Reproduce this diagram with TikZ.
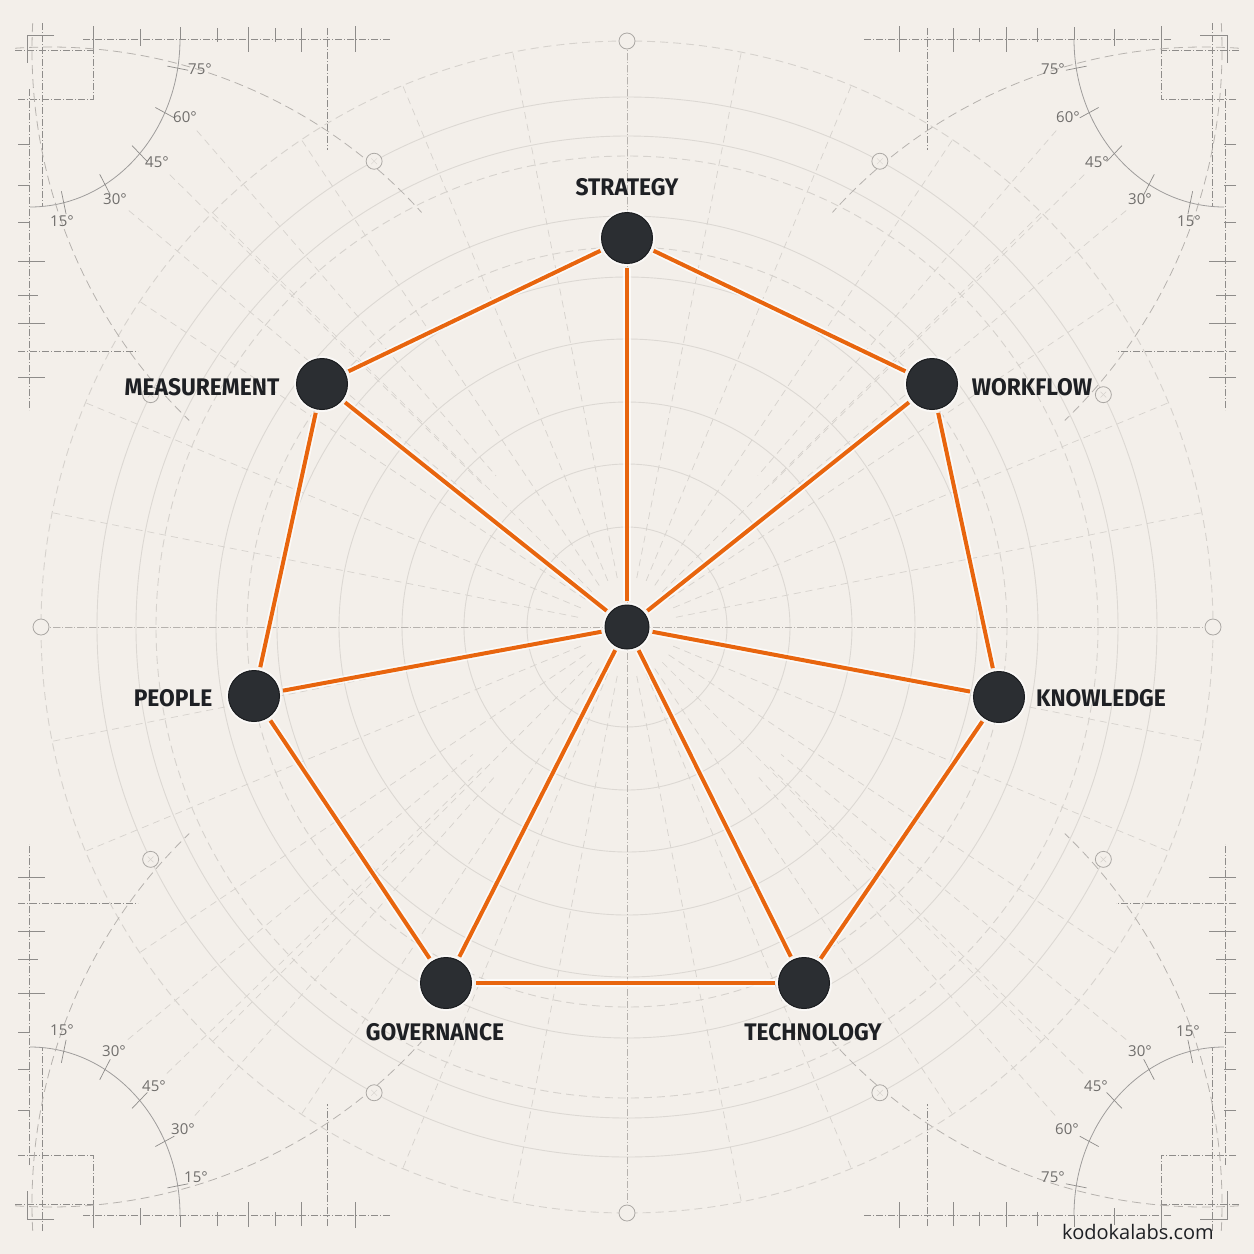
\documentclass[tikz,border=0pt]{standalone}
\usepackage{fontspec}
\setmainfont{Open Sans}
\newfontfamily\labfont[FakeStretch=0.95]{Fira Sans}
\usetikzlibrary{calc}
\definecolor{bg}{HTML}{F3EFEA}
\definecolor{gridc}{HTML}{DCD8D3}
\definecolor{gridd}{HTML}{D6D2CD}
\definecolor{decoc}{HTML}{8E8C8A}
\definecolor{orng}{HTML}{E8650E}
\definecolor{nodec}{HTML}{2B2E32}
\definecolor{nodeb}{HTML}{1A1C1F}
\definecolor{labc}{HTML}{1E2024}
\definecolor{degc}{HTML}{706E6C}
\newcommand{\cornerart}{%
  \draw[decodash] (83,39) -- (390,39);
  \foreach \x/\ya/\yb in {93/26/52,140/29/46,180/27/39,217/28/42,248/27/52,275/28/42,301/28/52,355/26/52} \draw[deco] (\x,\ya) -- (\x,\yb);
  \draw[decodash] (327,28) -- (327,150);
  \draw[decodash] (15,50) -- (93,50);
  \draw[decodash] (42,23) -- (42,207);
  \draw[deco] (54,35) -- (27,35) -- (27,63);
  \draw[decodash] (18,99) -- (93,99) -- (93,30);
  \draw[decodash] (29,89) -- (29,410);
  \foreach \yy/\e in {144/30,185/30,222/30,261/45,295/38,323/45,377/45} \draw[deco] (18,\yy) -- (\e,\yy);
  \draw[decodash] (18,351) -- (138,351);
  \draw[protr] (180,39) arc[start angle=0, end angle=90, x radius=150, y radius=168];
  \foreach \t in {10,26,43,60,77} \draw[deco] ({30+150*0.93*cos(\t)},{39+168*0.93*sin(\t)}) -- ({30+150*1.07*cos(\t)},{39+168*1.07*sin(\t)});
  \draw[arcd] (50,547) ++(266:500) arc[start angle=266, end angle=318, radius=500];
  \draw[arcd] (547,50) ++(183:515) arc[start angle=183, end angle=134, radius=515];
}
\begin{document}
\begin{tikzpicture}[x=1pt,y=-1pt,
  gsolid/.style={draw=gridc, line width=0.9pt},
  gdash/.style={draw=gridd, line width=0.9pt, dash pattern=on 8pt off 5pt},
  graydash/.style={draw=gridd, line width=0.7pt, dash pattern=on 7pt off 5pt},
  deco/.style={draw=decoc, line width=0.7pt},
  decodash/.style={draw=decoc, line width=0.7pt, dash pattern=on 7pt off 2pt on 1pt off 2pt},
  protr/.style={draw=decoc!85, line width=0.8pt},
  arcd/.style={draw=gridd!85!black, line width=0.8pt, dash pattern=on 9pt off 5pt},
  marker/.style={draw=gridd!80!black, line width=0.8pt, fill=bg},
  hub/.style={circle, fill=nodec, draw=nodeb, line width=1pt, minimum size=51pt, inner sep=0pt, outer sep=4pt, preaction={draw=white, line width=5pt, opacity=0.6}},
  lab/.style={font=\labfont\bfseries\fontsize{24}{28}\selectfont, text=labc, inner sep=0pt},
  deg/.style={font=\fontsize{15}{18}\selectfont, text=degc, inner sep=0pt},
  edge/.style={draw=orng, line width=4pt, preaction={draw=white, line width=7.5pt, opacity=0.7}}
]
\useasboundingbox (0,0) rectangle (1254,1254);
\fill[bg] (0,0) rectangle (1254,1254);
\coordinate (O) at (627,627);
% polar grid
\foreach \r in {100,163,225,288,350,411,491,530} \draw[gsolid] (O) circle[radius=\r];
\foreach \r in {380,471,586} \draw[gdash] (O) circle[radius=\r];
\foreach \a in {11.25,22.5,...,360} \draw[graydash] (O) ++(\a:50) -- ++(\a:536);
\draw[decodash, draw=gridd!85!black] (41,627) -- (1213,627);
\draw[decodash, draw=gridd!85!black] (627,41) -- (627,1213);
% corner art
\cornerart
\begin{scope}[shift={(1254,0)},xscale=-1]\cornerart\end{scope}
\begin{scope}[shift={(0,1254)},yscale=-1]\cornerart\end{scope}
\begin{scope}[shift={(1254,1254)},scale=-1]\cornerart\end{scope}
% degree labels
\node[deg] (tl1) at (200,69) {75°};
\node[deg] (tl2) at (185,117) {60°};
\node[deg] (tl3) at (157,162) {45°};
\node[deg] (tl4) at (115,199) {30°};
\node[deg] (tl5) at (62,221) {15°};
\node[deg] (tr1) at (1053,69) {75°};
\node[deg] (tr2) at (1068,117) {60°};
\node[deg] (tr3) at (1097,162) {45°};
\node[deg] (tr4) at (1140,199) {30°};
\node[deg] (tr5) at (1189,221) {15°};
\node[deg] (bl1) at (62,1030) {15°};
\node[deg] (bl2) at (114,1051) {30°};
\node[deg] (bl3) at (154,1086) {45°};
\node[deg] (bl4) at (183,1129) {30°};
\node[deg] (bl5) at (196,1177) {15°};
\node[deg] (br1) at (1188,1031) {15°};
\node[deg] (br2) at (1140,1051) {30°};
\node[deg] (br3) at (1096,1086) {45°};
\node[deg] (br4) at (1067,1129) {60°};
\node[deg] (br5) at (1053,1177) {75°};
\foreach \n in {tl2,tl3,tl4,tr2,tr3,tr4,bl2,bl3,bl4,br2,br3,br4}
  \draw[graydash] ($(\n)!18pt!(O)$) -- ($(O)!200pt!(\n)$);
% markers
\foreach \p in {(627,41),(41,627),(1213,627),(627,1213)} {
  \draw[marker] \p circle[radius=8];
}
\foreach \a in {26,61.5,118.5,154,206,241.5,298.5,334} {
  \draw[marker] (O) ++(\a:530) circle[radius=8];
  \draw[gridd, line width=0.5pt] (O) ++(\a:530) ++(45:4) -- ++(225:8);
  \draw[gridd, line width=0.5pt] (O) ++(\a:530) ++(135:4) -- ++(315:8);
}
% nodes
\node[hub, minimum size=44pt] (C) at (627,627) {};
\node[hub] (S) at (627,238) {};
\node[hub] (W) at (932,384) {};
\node[hub] (K) at (999,697) {};
\node[hub] (T) at (804,983) {};
\node[hub] (G) at (446,983) {};
\node[hub] (P) at (254,696) {};
\node[hub] (M) at (322,384) {};
% edges
\draw[edge] (S) -- (W);
\draw[edge] (W) -- (K);
\draw[edge] (K) -- (T);
\draw[edge] (T) -- (G);
\draw[edge] (G) -- (P);
\draw[edge] (P) -- (M);
\draw[edge] (M) -- (S);
\foreach \n in {S,W,K,T,G,P,M} \draw[edge] (C) -- (\n);
% labels
\node[lab] (lS) at (627,187) {STRATEGY};
\node[lab] (lW) at (1032,387) {WORKFLOW};
\node[lab] (lK) at (1101,698) {KNOWLEDGE};
\node[lab] (lT) at (813,1032) {TECHNOLOGY};
\node[lab] (lG) at (435,1032) {GOVERNANCE};
\node[lab] (lP) at (173,698) {PEOPLE};
\node[lab] (lM) at (202,387) {MEASUREMENT};
\node[font=\fontsize{20}{24}\selectfont, text=labc, inner sep=0pt] (url) at (1138,1232) {kodokalabs.com};
\end{tikzpicture}
\end{document}
